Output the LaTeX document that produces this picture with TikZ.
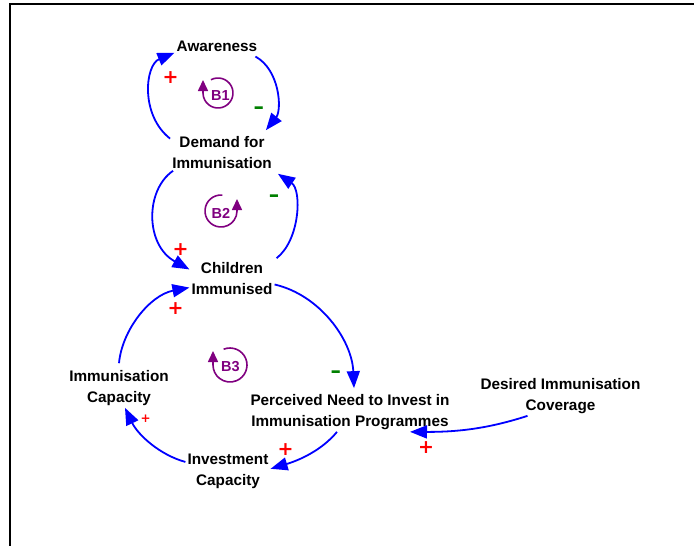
\documentclass[tikz,border=0pt]{standalone}
\usepackage{fontspec}
\setmainfont{Liberation Sans}
\newfontfamily\djv{DejaVu Sans}
\usepackage{graphicx}
\usetikzlibrary{arrows.meta}
\definecolor{cldblue}{RGB}{0,0,255}
\definecolor{cldred}{RGB}{255,0,0}
\definecolor{cldgreen}{RGB}{0,128,0}
\definecolor{cldpurple}{RGB}{128,0,128}
\tikzset{
  var/.style={align=center, inner sep=2pt, font=\fontsize{15.3}{21}\selectfont\bfseries},
  link/.style={draw=cldblue, line width=1.8pt, -{Triangle[length=17pt,width=13pt]}},
  possign/.style={text=cldred, font=\fontsize{19}{19}\selectfont\djv\bfseries, inner sep=0pt},
  smallpos/.style={text=cldred, font=\fontsize{12}{12}\selectfont\djv\bfseries, inner sep=0pt},
  negsign/.style={text=cldgreen, font=\fontsize{13}{13}\selectfont\djv\bfseries, inner sep=0pt},
  looparc/.style={draw=cldpurple, line width=1.6pt, -{Triangle[length=11pt,width=10pt]}},
  looplabel/.style={text=cldpurple, font=\fontsize{14.5}{14.5}\selectfont\bfseries, inner sep=0pt},
}
\begin{document}
\begin{tikzpicture}[x=1pt,y=-1pt]
\useasboundingbox (0,0) rectangle (694,546);
\fill[white] (0,0) rectangle (694,546);
\draw[line width=2.3pt] (9.8,546) -- (9.8,3.8) -- (694,3.8);

% variables
\node[var] (aw) at (217,46) {Awareness};
\node[var] (dem) at (222,152.5) {Demand for\\Immunisation};
\node[var] (ch) at (232,278.5) {Children\\Immunised};
\node[var] (ic) at (119,388) {Immunisation\\Capacity};
\node[var] (inv) at (228,471) {Investment\\Capacity};
\node[var] (pn) at (350,412) {Perceived Need to Invest in\\Immunisation Programmes};
\node[var] (dc) at (560.5,396) {Desired Immunisation\\Coverage};

% links
\draw[link] (dem.165) .. controls (140,115) and (145,65) .. (aw.189);
\draw[link] ([xshift=-4pt,yshift=-3pt]aw.south east) .. controls (280,70) and (282,110) .. ([xshift=-8pt,yshift=4pt]dem.north east);
\draw[link] ([xshift=3pt]dem.south west) .. controls (145,190) and (145,245) .. (ch.168);
\draw[link] ([xshift=2pt,yshift=2pt]ch.north east) .. controls (300,240) and (302,190) .. ([xshift=4pt,yshift=-3pt]dem.south east);
\draw[link] ([yshift=5pt]ic.north) .. controls (122,330) and (150,295) .. (ch.192);
\draw[link] (ch.-8) .. controls (320,295) and (352,340) .. ([xshift=4pt,yshift=4pt]pn.north);
\draw[link] ([xshift=-13pt]pn.south) .. controls (322,450) and (300,460) .. (inv.3);
\draw[link] (inv.168) .. controls (160,455) and (138,435) .. ([xshift=6pt]ic.south);
\draw[link] ([xshift=-33pt]dc.south) .. controls (490,428) and (460,432) .. ([xshift=60pt]pn.south);

% polarities
\node[possign] (p1) at (170.7,77.3) {+};
\node[negsign] (n1) at (258.7,111) {\scalebox{1}[1.8]{−}};
\node[possign] (p2) at (180.7,249.3) {+};
\node[negsign] (n2) at (274,199) {\scalebox{1}[1.8]{−}};
\node[possign] (p3) at (175.7,308.3) {+};
\node[negsign] (n3) at (335.7,375) {\scalebox{1}[1.8]{−}};
\node[possign] (p4) at (285.7,450) {+};
\node[smallpos] (p5) at (145.7,418.3) {+};
\node[possign] (p6) at (426,448) {+};

% loop identifiers
\draw[looparc] (218,93) ++(-118:15) arc[start angle=-118, end angle=180, radius=15] -- ++(0,-13);
\node[looplabel] (b1) at (220.5,96) {B1};
\draw[looparc] (221,211) ++(-85:16) arc[start angle=-85, end angle=-360, radius=16] -- ++(0,-12);
\node[looplabel] (b2) at (221,213.5) {B2};
\draw[looparc] (230,365) ++(-112:17) arc[start angle=-112, end angle=180, radius=17] -- ++(0,-14);
\node[looplabel] (b3) at (230.5,366.5) {B3};
\end{tikzpicture}
\end{document}
